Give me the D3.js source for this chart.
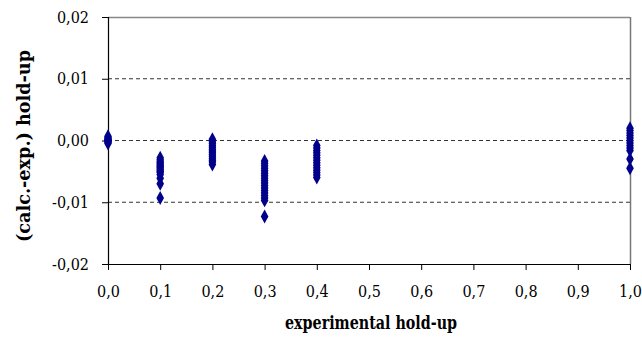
<!DOCTYPE html>
<html><head><meta charset="utf-8">
<script src="https://cdn.jsdelivr.net/npm/d3@7"></script>
<style>body{margin:0;background:#fff}svg{display:block}
text{font-stretch:condensed}</style>
</head><body><svg id="c" width="642" height="341"></svg>
<script>
const xTicks = [0,0.1,0.2,0.3,0.4,0.5,0.6,0.7,0.8,0.9,1.0];
const yTicks = [-0.02,-0.01,0,0.01,0.02];
const gridValues = [-0.01,0,0.01];
const xCol00 = 0.0, yCol00 = [0.0007,0.0005,0.0003,0.0002,0.0001,0.0,-0.0001,-0.0002,-0.0003,-0.0005];
const xCol01 = 0.1, yCol01 = [-0.0028,-0.0031,-0.0034,-0.0036,-0.0038,-0.0040,-0.0042,-0.0044,-0.0046,-0.0048,-0.0050,-0.0052,-0.0055,-0.0061,-0.0070,-0.0093];
const xCol02 = 0.2, yCol02 = [0.0002,-0.0002,-0.0005,-0.0008,-0.0011,-0.0014,-0.0017,-0.0020,-0.0023,-0.0026,-0.0029,-0.0032,-0.0035,-0.0039];
const xCol03 = 0.3, yCol03 = [-0.0033,-0.0037,-0.0041,-0.0045,-0.0049,-0.0053,-0.0057,-0.0061,-0.0065,-0.0069,-0.0073,-0.0077,-0.0081,-0.0085,-0.0089,-0.0093,-0.0097,-0.0123];
const xCol04 = 0.4, yCol04 = [-0.0008,-0.0012,-0.0016,-0.0020,-0.0024,-0.0028,-0.0032,-0.0036,-0.0040,-0.0044,-0.0048,-0.0052,-0.0056,-0.0060];
const xCol10 = 1.0, yCol10 = [0.0020,0.0016,0.0012,0.0008,0.0004,0.0000,-0.0004,-0.0008,-0.0012,-0.0016,-0.0030,-0.0045];

const cols = [[xCol00,yCol00],[xCol01,yCol01],[xCol02,yCol02],[xCol03,yCol03],[xCol04,yCol04],[xCol10,yCol10]];
const points = [];
cols.forEach(([x,ys]) => ys.forEach(y => points.push({x,y})));

const FONT = "'DejaVu Serif Condensed','DejaVu Serif',serif";
const L=108,R=630,T=17,B=264;
const svg = d3.select("#c");
const x = d3.scaleLinear().domain([0,1]).range([L,R]);
const y = d3.scaleLinear().domain([-0.02,0.02]).range([B,T]);
const fmt = d => d3.format(".2f")(d).replace(".",",").replace("−","-");
const fmtx = d => d3.format(".1f")(d).replace(".",",");

svg.append("g").selectAll("line").data(gridValues).join("line")
  .attr("x1",L).attr("x2",R).attr("y1",d=>y(d)).attr("y2",d=>y(d))
  .attr("stroke","#333").attr("stroke-width",1).attr("stroke-dasharray","4,3");
svg.append("line").attr("x1",L).attr("x2",R).attr("y1",T+0.5).attr("y2",T+0.5).attr("stroke","#888").attr("stroke-width",1.5);
svg.append("line").attr("x1",R+0.5).attr("x2",R+0.5).attr("y1",T).attr("y2",B).attr("stroke","#777").attr("stroke-width",1.5);

const ya = svg.append("g").attr("transform",`translate(${L},0)`)
  .call(d3.axisLeft(y).tickValues(yTicks).tickFormat(fmt).tickSize(6).tickPadding(13));
const xa = svg.append("g").attr("transform",`translate(0,${B})`)
  .call(d3.axisBottom(x).tickValues(xTicks).tickFormat(fmtx).tickSize(6).tickPadding(16));
[ya,xa].forEach(a=>{
  a.attr("font-family",FONT).attr("font-size",16);
  a.select(".domain").attr("stroke","#000").attr("stroke-width",1.2);
  a.selectAll(".tick line").attr("stroke","#000");
  a.selectAll("text").attr("fill","#000");
});
xa.select(".domain").attr("d",`M${L-6},0.5H${R}`);

svg.append("g").selectAll("path").data(points).join("path")
  .attr("d", d3.symbol().type(d3.symbolDiamond).size(56))
  .attr("transform", d=>`translate(${x(d.x)},${y(d.y)}) scale(0.95,1)`)
  .attr("fill","#00008b");

svg.append("text").attr("x",(L+R)/2 + 2).attr("y",329).attr("text-anchor","middle")
  .attr("font-family",FONT).attr("font-weight","bold").attr("font-size",18)
  .attr("textLength",172).attr("lengthAdjust","spacingAndGlyphs")
  .text("experimental hold-up");
svg.append("text").attr("transform",`translate(30,146) rotate(-90)`).attr("text-anchor","middle")
  .attr("font-family",FONT).attr("font-weight","bold").attr("font-size",18)
  .attr("textLength",192).attr("lengthAdjust","spacingAndGlyphs")
  .text("(calc.-exp.) hold-up");
</script></body></html>
